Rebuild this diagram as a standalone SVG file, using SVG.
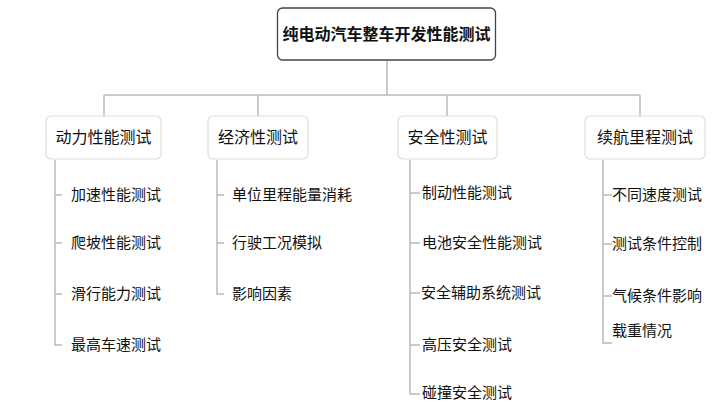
<svg xmlns="http://www.w3.org/2000/svg" width="721" height="405" viewBox="0 0 721 405">
<style>
text{font-family:"Noto Sans CJK SC","Noto Sans",sans-serif;fill:#111}
.box{fill:#fff;stroke:#ddd;stroke-width:1.2}
.root{fill:#fff;stroke:#444;stroke-width:1.3}
.b{font-size:16px}
.c{font-size:15px}
.ln{stroke:#bbb;stroke-width:1.5;fill:none}
</style>
<rect width="721" height="405" fill="#fff"/>
<g id="connectors">
<path class="ln" d="M387 60V95M104 95H640M104 95V116M258 95V116M447 95V116M640 95V116"/>
<path class="ln" d="M55 160V345H62M55 195H62M55 243H62M55 294H62"/>
<path class="ln" d="M217 160V294H224M217 195H224M217 243H224"/>
<path class="ln" d="M410 160V394H420M410 193H420M410 243H420M410 293H420M410 345H420"/>
<path class="ln" d="M603 160V343H612M603 195H612M603 244H612M603 296H612"/>
</g>
<g id="root"><rect class="root" x="277.5" y="8" width="218" height="52" rx="5"/><text x="386.5" y="40" text-anchor="middle" font-size="16" font-weight="bold">纯电动汽车整车开发性能测试</text></g>
<g id="n1"><rect class="box" x="46" y="116" width="115" height="43" rx="5"/><text class="b" x="103.5" y="143" text-anchor="middle">动力性能测试</text></g>
<g id="n2"><rect class="box" x="208" y="116" width="100" height="43" rx="5"/><text class="b" x="258" y="143" text-anchor="middle">经济性测试</text></g>
<g id="n3"><rect class="box" x="398" y="116" width="99" height="43" rx="5"/><text class="b" x="447.5" y="143" text-anchor="middle">安全性测试</text></g>
<g id="n4"><rect class="box" x="585" y="116" width="120" height="43" rx="5"/><text class="b" x="645" y="143" text-anchor="middle">续航里程测试</text></g>
<g id="c1">
<text class="c" x="71" y="200">加速性能测试</text>
<text class="c" x="71" y="248">爬坡性能测试</text>
<text class="c" x="71" y="299">滑行能力测试</text>
<text class="c" x="71" y="350">最高车速测试</text>
</g>
<g id="c2">
<text class="c" x="232" y="200">单位里程能量消耗</text>
<text class="c" x="232" y="248">行驶工况模拟</text>
<text class="c" x="232" y="299">影响因素</text>
</g>
<g id="c3">
<text class="c" x="422" y="198">制动性能测试</text>
<text class="c" x="422" y="248">电池安全性能测试</text>
<text class="c" x="421" y="298">安全辅助系统测试</text>
<text class="c" x="422" y="350">高压安全测试</text>
<text class="c" x="422" y="398">碰撞安全测试</text>
</g>
<g id="c4">
<text class="c" x="612" y="200">不同速度测试</text>
<text class="c" x="612" y="249">测试条件控制</text>
<text class="c" x="612" y="301">气候条件影响</text>
<text class="c" x="612" y="336">载重情况</text>
</g>
</svg>
